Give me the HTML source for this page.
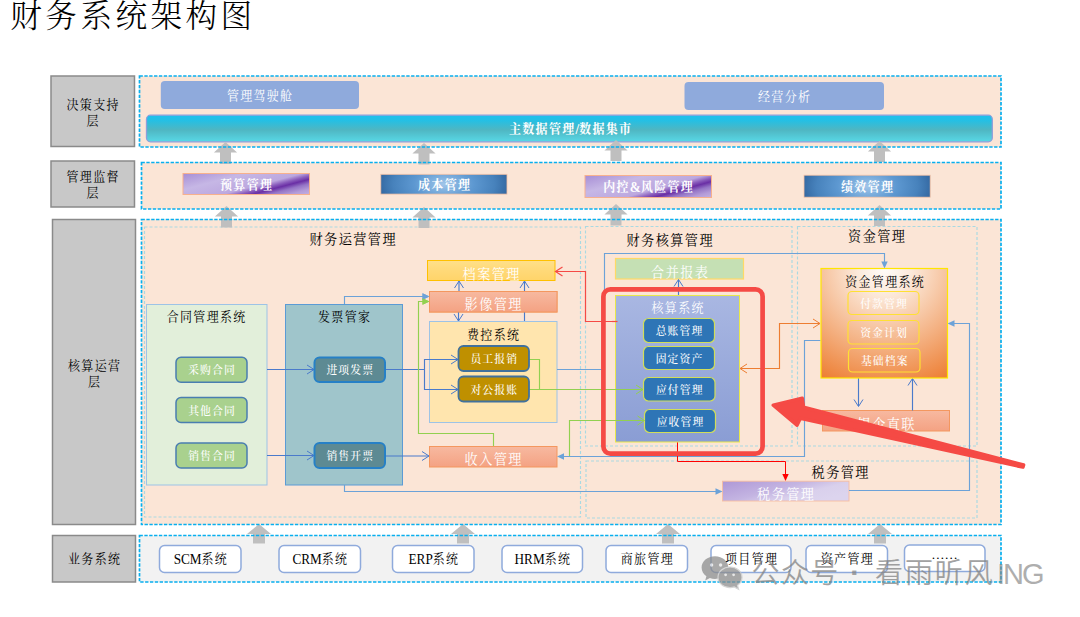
<!DOCTYPE html>
<html lang="zh-CN"><head><meta charset="utf-8"><title>财务系统架构图</title>
<style>
html,body{margin:0;padding:0;background:#fff;}
body{width:1080px;height:617px;overflow:hidden;font-family:"Liberation Serif", "Noto Serif CJK SC", serif;}
svg{display:block;}
</style></head><body>
<svg width="1080" height="617" viewBox="0 0 1080 617">
<defs>
<linearGradient id="gCyan" x1="0" y1="0" x2="0" y2="1"><stop offset="0" stop-color="#1FC0EC"/><stop offset="0.18" stop-color="#22C0E6"/><stop offset="0.55" stop-color="#4FB6C2"/><stop offset="1" stop-color="#58D8E6"/></linearGradient>
<linearGradient id="gPurple" x1="0" y1="0" x2="1.167" y2="0.732"><stop offset="0" stop-color="#A78ED5"/><stop offset="0.3" stop-color="#C6B7E5"/><stop offset="0.58" stop-color="#BCA8DF"/><stop offset="0.66" stop-color="#8A5CBC"/><stop offset="0.72" stop-color="#6A2FA5"/><stop offset="0.80" stop-color="#9474C6"/><stop offset="0.9" stop-color="#B49CD8"/><stop offset="1" stop-color="#C2B0E2"/></linearGradient>
<linearGradient id="gPurple2" x1="0" y1="0" x2="1" y2="0.6"><stop offset="0" stop-color="#AE97D6"/><stop offset="0.5" stop-color="#C4B5E2"/><stop offset="0.75" stop-color="#D9D0EC"/><stop offset="1" stop-color="#DCD4EE"/></linearGradient>
<radialGradient id="gBlue" cx="0.5" cy="0.5" r="0.56" gradientTransform="translate(0 0.5) scale(1 3.2) translate(0 -0.5)"><stop offset="0" stop-color="#A2C6E9"/><stop offset="0.18" stop-color="#82B2DF"/><stop offset="0.42" stop-color="#5D98D1"/><stop offset="0.72" stop-color="#4782BC"/><stop offset="1" stop-color="#2C5E97"/></radialGradient>
<linearGradient id="gYellow" x1="0" y1="0" x2="0" y2="1"><stop offset="0" stop-color="#FFE08A"/><stop offset="0.5" stop-color="#FFD978"/><stop offset="1" stop-color="#FFD46A"/></linearGradient>
<linearGradient id="gSalmon" x1="0" y1="0" x2="0" y2="1"><stop offset="0" stop-color="#F7B9A0"/><stop offset="1" stop-color="#F4A283"/></linearGradient>
<linearGradient id="gCore" x1="0" y1="0" x2="0" y2="1"><stop offset="0" stop-color="#A9B7E2"/><stop offset="1" stop-color="#8A9DD4"/></linearGradient>
<radialGradient id="gFund" cx="884.5" cy="268" r="127" gradientUnits="userSpaceOnUse"><stop offset="0" stop-color="#FFFDFB"/><stop offset="0.2" stop-color="#FCEBDD"/><stop offset="0.5" stop-color="#F6C29D"/><stop offset="1" stop-color="#ED7D31"/></radialGradient>
</defs>
<text x="10.3" y="16.3" font-size="31.6" fill="#000" font-weight="300" font-family='"Liberation Serif", "Noto Serif CJK SC", serif' text-anchor="start" dominant-baseline="central" letter-spacing="3.45">财务系统架构图</text>
<rect x="51" y="76" width="83.5" height="70.5" fill="#C8C8C8" stroke="#8A8A8A" stroke-width="1.5" rx="0" />
<rect x="51" y="161" width="83.5" height="46" fill="#C8C8C8" stroke="#8A8A8A" stroke-width="1.5" rx="0" />
<rect x="52.5" y="219.5" width="83.0" height="305.0" fill="#C8C8C8" stroke="#8A8A8A" stroke-width="1.5" rx="0" />
<rect x="52.5" y="535.5" width="83.0" height="46.5" fill="#C8C8C8" stroke="#8A8A8A" stroke-width="1.5" rx="0" />
<text transform="translate(93.15 104.5) scale(0.93 1)" font-size="12.9" fill="#000" font-weight="400" font-family='"Liberation Serif", "Noto Serif CJK SC", serif' text-anchor="middle" dominant-baseline="central" letter-spacing="1.4" >决策支持</text>
<text transform="translate(93.15 121) scale(0.93 1)" font-size="12.9" fill="#000" font-weight="400" font-family='"Liberation Serif", "Noto Serif CJK SC", serif' text-anchor="middle" dominant-baseline="central" letter-spacing="1.4" >层</text>
<text transform="translate(93.15 176.5) scale(0.93 1)" font-size="12.9" fill="#000" font-weight="400" font-family='"Liberation Serif", "Noto Serif CJK SC", serif' text-anchor="middle" dominant-baseline="central" letter-spacing="1.4" >管理监督</text>
<text transform="translate(93.15 193) scale(0.93 1)" font-size="12.9" fill="#000" font-weight="400" font-family='"Liberation Serif", "Noto Serif CJK SC", serif' text-anchor="middle" dominant-baseline="central" letter-spacing="1.4" >层</text>
<text transform="translate(94.65 365.5) scale(0.93 1)" font-size="12.9" fill="#000" font-weight="400" font-family='"Liberation Serif", "Noto Serif CJK SC", serif' text-anchor="middle" dominant-baseline="central" letter-spacing="1.4" >核算运营</text>
<text transform="translate(94.65 382) scale(0.93 1)" font-size="12.9" fill="#000" font-weight="400" font-family='"Liberation Serif", "Noto Serif CJK SC", serif' text-anchor="middle" dominant-baseline="central" letter-spacing="1.4" >层</text>
<text transform="translate(94.65 559) scale(0.93 1)" font-size="12.9" fill="#000" font-weight="400" font-family='"Liberation Serif", "Noto Serif CJK SC", serif' text-anchor="middle" dominant-baseline="central" letter-spacing="1.4" >业务系统</text>
<rect x="139.5" y="76" width="861.5" height="71" fill="#FBE5D6" stroke="none" stroke-width="1" rx="0" />
<rect x="141.5" y="162.5" width="859.5" height="46.5" fill="#FBE5D6" stroke="none" stroke-width="1" rx="0" />
<rect x="141.5" y="219.5" width="859.5" height="305.0" fill="#FBE5D6" stroke="none" stroke-width="1" rx="0" />
<rect x="139.5" y="535.5" width="861.5" height="46.5" fill="#F2F2F2" stroke="none" stroke-width="1" rx="0" />
<rect x="160.8" y="81" width="198.2" height="28" fill="#8FAADC" stroke="none" stroke-width="0" rx="4" />
<text transform="translate(260.15 95.5) scale(0.93 1)" font-size="12.9" fill="#fff" font-weight="400" font-family='"Liberation Serif", "Noto Serif CJK SC", serif' text-anchor="middle" dominant-baseline="central" letter-spacing="1.4" >管理驾驶舱</text>
<rect x="684.5" y="82" width="199.5" height="28" fill="#8FAADC" stroke="none" stroke-width="0" rx="4" />
<text transform="translate(784.65 96.5) scale(0.93 1)" font-size="12.9" fill="#fff" font-weight="400" font-family='"Liberation Serif", "Noto Serif CJK SC", serif' text-anchor="middle" dominant-baseline="central" letter-spacing="1.4" >经营分析</text>
<rect x="146.5" y="115.2" width="845.8" height="26.6" fill="url(#gCyan)" stroke="#8E9FDB" stroke-width="1.3" rx="4" />
<text transform="translate(570.65 129) scale(0.93 1)" font-size="12.9" fill="#fff" font-weight="700" font-family='"Liberation Serif", "Noto Serif CJK SC", serif' text-anchor="middle" dominant-baseline="central" letter-spacing="1.4" >主数据管理<tspan letter-spacing="0" font-size="14.23">/</tspan>数据集市</text>
<rect x="183" y="173.5" width="126.5" height="21.0" fill="url(#gPurple)" stroke="#F7B08D" stroke-width="1" rx="0" />
<text transform="translate(246.65 184.5) scale(0.93 1)" font-size="12.9" fill="#fff" font-weight="700" font-family='"Liberation Serif", "Noto Serif CJK SC", serif' text-anchor="middle" dominant-baseline="central" letter-spacing="1.4" >预算管理</text>
<rect x="380.8" y="174.3" width="126.2" height="19.8" fill="url(#gBlue)" stroke="#F7C3A6" stroke-width="0.8" rx="0" />
<text transform="translate(444.65 184.5) scale(0.93 1)" font-size="12.9" fill="#fff" font-weight="700" font-family='"Liberation Serif", "Noto Serif CJK SC", serif' text-anchor="middle" dominant-baseline="central" letter-spacing="1.4" >成本管理</text>
<rect x="585" y="175.5" width="126.5" height="22.0" fill="url(#gPurple)" stroke="#F7B08D" stroke-width="1" rx="0" />
<text transform="translate(648.65 187) scale(0.93 1)" font-size="12.9" fill="#fff" font-weight="700" font-family='"Liberation Serif", "Noto Serif CJK SC", serif' text-anchor="middle" dominant-baseline="central" letter-spacing="1.4" >内控<tspan letter-spacing="0" font-size="14.23">&amp;</tspan>风险管理</text>
<rect x="804" y="175.2" width="126.2" height="22.0" fill="url(#gBlue)" stroke="#F7C3A6" stroke-width="0.8" rx="0" />
<text transform="translate(867.65 187) scale(0.93 1)" font-size="12.9" fill="#fff" font-weight="700" font-family='"Liberation Serif", "Noto Serif CJK SC", serif' text-anchor="middle" dominant-baseline="central" letter-spacing="1.4" >绩效管理</text>
<rect x="144.5" y="227" width="436.0" height="290" fill="none" stroke="#A9D9E2" stroke-width="1.15" rx="0" stroke-dasharray="3 2"/>
<rect x="585.5" y="226.5" width="206.5" height="219.5" fill="none" stroke="#A9D9E2" stroke-width="1.15" rx="0" stroke-dasharray="3 2"/>
<rect x="797.5" y="226.5" width="179.5" height="219.5" fill="none" stroke="#A9D9E2" stroke-width="1.15" rx="0" stroke-dasharray="3 2"/>
<rect x="586" y="461" width="391" height="57" fill="none" stroke="#A9D9E2" stroke-width="1.15" rx="0" stroke-dasharray="3 2"/>
<text transform="translate(353.22 239) scale(0.93 1)" font-size="14.16" fill="#000" font-weight="400" font-family='"Liberation Serif", "Noto Serif CJK SC", serif' text-anchor="middle" dominant-baseline="central" letter-spacing="1.54" >财务运营管理</text>
<text transform="translate(670.22 240.5) scale(0.93 1)" font-size="14.16" fill="#000" font-weight="400" font-family='"Liberation Serif", "Noto Serif CJK SC", serif' text-anchor="middle" dominant-baseline="central" letter-spacing="1.54" >财务核算管理</text>
<text transform="translate(877.22 236.5) scale(0.93 1)" font-size="14.16" fill="#000" font-weight="400" font-family='"Liberation Serif", "Noto Serif CJK SC", serif' text-anchor="middle" dominant-baseline="central" letter-spacing="1.54" >资金管理</text>
<text transform="translate(840.72 472) scale(0.93 1)" font-size="14.16" fill="#000" font-weight="400" font-family='"Liberation Serif", "Noto Serif CJK SC", serif' text-anchor="middle" dominant-baseline="central" letter-spacing="1.54" >税务管理</text>
<rect x="146.5" y="304.5" width="120.5" height="180.5" fill="#E2EFDA" stroke="#9DC3E6" stroke-width="1" rx="0" />
<text transform="translate(206.65 316.6) scale(0.93 1)" font-size="12.9" fill="#000" font-weight="400" font-family='"Liberation Serif", "Noto Serif CJK SC", serif' text-anchor="middle" dominant-baseline="central" letter-spacing="1.4" >合同管理系统</text>
<rect x="285.5" y="304.5" width="117.0" height="180.5" fill="#9FC5CB" stroke="#5B9BD5" stroke-width="1" rx="0" />
<text transform="translate(344.65 316.5) scale(0.93 1)" font-size="12.9" fill="#000" font-weight="400" font-family='"Liberation Serif", "Noto Serif CJK SC", serif' text-anchor="middle" dominant-baseline="central" letter-spacing="1.4" >发票管家</text>
<rect x="427.5" y="260.5" width="127.5" height="20.0" fill="url(#gYellow)" stroke="#FFC000" stroke-width="1" rx="0" />
<rect x="429.5" y="291.5" width="127.5" height="20.5" fill="url(#gSalmon)" stroke="#F4975F" stroke-width="1" rx="0" />
<rect x="429.5" y="321.5" width="127.5" height="101.0" fill="#FFE5AE" stroke="#9DC3E6" stroke-width="1" rx="0" />
<text transform="translate(493.65 334.5) scale(0.93 1)" font-size="12.9" fill="#000" font-weight="400" font-family='"Liberation Serif", "Noto Serif CJK SC", serif' text-anchor="middle" dominant-baseline="central" letter-spacing="1.4" >费控系统</text>
<rect x="429.5" y="446.5" width="127.5" height="20.5" fill="url(#gSalmon)" stroke="#F4975F" stroke-width="1" rx="0" />
<rect x="615.5" y="258.5" width="128.0" height="20.5" fill="#C5E0B4" stroke="#FFD966" stroke-width="1.2" rx="0" />
<rect x="822.5" y="410.5" width="127.0" height="20.5" fill="url(#gSalmon)" stroke="#F4975F" stroke-width="1" rx="0" />
<rect x="722.5" y="481.2" width="126.5" height="19.8" fill="url(#gPurple2)" stroke="#F5BDA2" stroke-width="0.9" rx="0" />
<text transform="translate(491.72 274) scale(0.93 1)" font-size="14.16" fill="#fff" font-weight="400" font-family='"Liberation Serif", "Noto Serif CJK SC", serif' text-anchor="middle" dominant-baseline="central" letter-spacing="1.54" >档案管理</text>
<text transform="translate(493.72 304.5) scale(0.93 1)" font-size="14.16" fill="#fff" font-weight="400" font-family='"Liberation Serif", "Noto Serif CJK SC", serif' text-anchor="middle" dominant-baseline="central" letter-spacing="1.54" >影像管理</text>
<text transform="translate(493.72 459.5) scale(0.93 1)" font-size="14.16" fill="#fff" font-weight="400" font-family='"Liberation Serif", "Noto Serif CJK SC", serif' text-anchor="middle" dominant-baseline="central" letter-spacing="1.54" >收入管理</text>
<text transform="translate(680.22 272) scale(0.93 1)" font-size="14.16" fill="#fff" font-weight="400" font-family='"Liberation Serif", "Noto Serif CJK SC", serif' text-anchor="middle" dominant-baseline="central" letter-spacing="1.54" >合并报表</text>
<text transform="translate(886.72 424.5) scale(0.93 1)" font-size="14.16" fill="#fff" font-weight="400" font-family='"Liberation Serif", "Noto Serif CJK SC", serif' text-anchor="middle" dominant-baseline="central" letter-spacing="1.54" >银企直联</text>
<text transform="translate(786.22 494) scale(0.93 1)" font-size="14.16" fill="#fff" font-weight="400" font-family='"Liberation Serif", "Noto Serif CJK SC", serif' text-anchor="middle" dominant-baseline="central" letter-spacing="1.54" >税务管理</text>
<path d="M344.5,304 V296.5 H423" stroke="#6CA2D8" stroke-width="1.15" fill="none" />
<path d="M422.5,293.3 L429.5,296.5 L422.5,299.7Z" stroke="none" stroke-width="0" fill="#6CA2D8" />
<path d="M557,369.5 H604.5 V253.5 H884.5 V262" stroke="#6CA2D8" stroke-width="1.15" fill="none" />
<path d="M881.3,261.5 L884.5,268.5 L887.7,261.5Z" stroke="none" stroke-width="0" fill="#6CA2D8" />
<path d="M820.5,340.5 H804.5 V456.5 H563" stroke="#6CA2D8" stroke-width="1.15" fill="none" />
<path d="M564,453.3 L557,456.5 L564,459.7Z" stroke="none" stroke-width="0" fill="#6CA2D8" />
<path d="M344.5,485 V491.5 H716" stroke="#6CA2D8" stroke-width="1.15" fill="none" />
<path d="M715.5,488.3 L722.5,491.5 L715.5,494.7Z" stroke="none" stroke-width="0" fill="#6CA2D8" />
<path d="M849,490.5 H969.5 V323.5 H954" stroke="#6CA2D8" stroke-width="1.15" fill="none" />
<path d="M954.5,320.3 L947.5,323.5 L954.5,326.7Z" stroke="none" stroke-width="0" fill="#6CA2D8" />
<path d="M858.5,378 V406" stroke="#4A7ACB" stroke-width="1.15" fill="none" />
<path d="M854.0,399.5 L858.5,406.5 L863.0,399.5" stroke="#4A7ACB" stroke-width="1" fill="none" />
<path d="M912.5,410.5 V379" stroke="#4A7ACB" stroke-width="1.15" fill="none" />
<path d="M908.0,385.5 L912.5,378.5 L917.0,385.5" stroke="#4A7ACB" stroke-width="1" fill="none" />
<path d="M459,291 V281" stroke="#4A7ACB" stroke-width="1.15" fill="none" />
<path d="M454.5,288 L459,281 L463.5,288" stroke="#4A7ACB" stroke-width="1" fill="none" />
<path d="M524.5,321 V281" stroke="#4A7ACB" stroke-width="1.15" fill="none" />
<path d="M520.0,288 L524.5,281 L529.0,288" stroke="#4A7ACB" stroke-width="1" fill="none" />
<path d="M458.5,312 V321" stroke="#4A7ACB" stroke-width="1.15" fill="none" />
<path d="M454.0,314 L458.5,321 L463.0,314" stroke="#4A7ACB" stroke-width="1" fill="none" />
<path d="M267,369.5 H314" stroke="#4A7ACB" stroke-width="1.15" fill="none" />
<path d="M307,365.0 L314,369.5 L307,374.0" stroke="#4A7ACB" stroke-width="1" fill="none" />
<path d="M267,455.5 H314" stroke="#4A7ACB" stroke-width="1.15" fill="none" />
<path d="M307,451.0 L314,455.5 L307,460.0" stroke="#4A7ACB" stroke-width="1" fill="none" />
<path d="M385,369.5 H424.5 M458,359.5 H424.5 V389.5 H458" stroke="#4A7ACB" stroke-width="1.15" fill="none" />
<path d="M451,355.0 L458,359.5 L451,364.0" stroke="#4A7ACB" stroke-width="1" fill="none" />
<path d="M451,385.0 L458,389.5 L451,394.0" stroke="#4A7ACB" stroke-width="1" fill="none" />
<path d="M385,456 H429" stroke="#4A7ACB" stroke-width="1.15" fill="none" />
<path d="M422,451.5 L429,456 L422,460.5" stroke="#4A7ACB" stroke-width="1" fill="none" />
<path d="M678.5,295 V280" stroke="#4A7ACB" stroke-width="1.15" fill="none" />
<path d="M674.0,286.5 L678.5,279.5 L683.0,286.5" stroke="#4A7ACB" stroke-width="1" fill="none" />
<path d="M493.5,446 V433.5 H418.5 V301.5 H423" stroke="#92D050" stroke-width="1.15" fill="none" />
<path d="M422.5,298.3 L429.5,301.5 L422.5,304.7Z" stroke="none" stroke-width="0" fill="#92D050" />
<path d="M529,359.5 H539.5 V389.5 M529,389.5 H643" stroke="#92D050" stroke-width="1.15" fill="none" />
<path d="M636,385.0 L643,389.5 L636,394.0" stroke="#92D050" stroke-width="1" fill="none" />
<path d="M569.5,456 V420.5 H644" stroke="#92D050" stroke-width="1.15" fill="none" />
<path d="M637.5,416.0 L644.5,420.5 L637.5,425.0" stroke="#92D050" stroke-width="1" fill="none" />
<path d="M617.5,321.5 H585.5 V271.5 H556" stroke="#F54A45" stroke-width="1.2" fill="none" />
<path d="M562.5,267.0 L555.5,271.5 L562.5,276.0" stroke="#F54A45" stroke-width="1.2" fill="none" />
<path d="M677.5,442 V461.5 H785.5 V474" stroke="#FF0000" stroke-width="1" fill="none" />
<path d="M782.3,474 L785.5,481 L788.7,474Z" stroke="none" stroke-width="0" fill="#FF0000" />
<path d="M740,368.5 H779.5 V323.5 H820" stroke="#ED7D31" stroke-width="1.15" fill="none" />
<path d="M747,364.0 L740,368.5 L747,373.0" stroke="#ED7D31" stroke-width="1" fill="none" />
<path d="M813,319.0 L820,323.5 L813,328.0" stroke="#ED7D31" stroke-width="1" fill="none" />
<rect x="429.5" y="291.5" width="127.5" height="20.5" fill="url(#gSalmon)" stroke="#F4975F" stroke-width="1" rx="0" />
<text transform="translate(493.72 304.5) scale(0.93 1)" font-size="14.16" fill="#fff" font-weight="400" font-family='"Liberation Serif", "Noto Serif CJK SC", serif' text-anchor="middle" dominant-baseline="central" letter-spacing="1.54" >影像管理</text>
<path d="M422.5,293.3 L429.5,296.5 L422.5,299.7Z" stroke="none" stroke-width="0" fill="#6CA2D8" />
<path d="M422.5,298.3 L429.5,301.5 L422.5,304.7Z" stroke="none" stroke-width="0" fill="#92D050" />
<rect x="176" y="357.2" width="71" height="25.1" fill="#A9D18E" stroke="#4A7EB0" stroke-width="1.5" rx="5" />
<text transform="translate(212.09 370.25) scale(0.93 1)" font-size="11.64" fill="#fff" font-weight="500" font-family='"Liberation Serif", "Noto Serif CJK SC", serif' text-anchor="middle" dominant-baseline="central" letter-spacing="1.26" >采购合同</text>
<rect x="176" y="397.5" width="71" height="25.0" fill="#A9D18E" stroke="#4A7EB0" stroke-width="1.5" rx="5" />
<text transform="translate(212.09 410.5) scale(0.93 1)" font-size="11.64" fill="#fff" font-weight="500" font-family='"Liberation Serif", "Noto Serif CJK SC", serif' text-anchor="middle" dominant-baseline="central" letter-spacing="1.26" >其他合同</text>
<rect x="176" y="443" width="71" height="25" fill="#A9D18E" stroke="#4A7EB0" stroke-width="1.5" rx="5" />
<text transform="translate(212.09 456.0) scale(0.93 1)" font-size="11.64" fill="#fff" font-weight="500" font-family='"Liberation Serif", "Noto Serif CJK SC", serif' text-anchor="middle" dominant-baseline="central" letter-spacing="1.26" >销售合同</text>
<rect x="314.5" y="357.5" width="70.5" height="24.5" fill="#5D8A93" stroke="#2680C6" stroke-width="2" rx="5" />
<text transform="translate(350.34 370.25) scale(0.93 1)" font-size="11.64" fill="#fff" font-weight="500" font-family='"Liberation Serif", "Noto Serif CJK SC", serif' text-anchor="middle" dominant-baseline="central" letter-spacing="1.26" >进项发票</text>
<rect x="314.5" y="443" width="70.5" height="25" fill="#5D8A93" stroke="#2680C6" stroke-width="2" rx="5" />
<text transform="translate(350.34 456.0) scale(0.93 1)" font-size="11.64" fill="#fff" font-weight="500" font-family='"Liberation Serif", "Noto Serif CJK SC", serif' text-anchor="middle" dominant-baseline="central" letter-spacing="1.26" >销售开票</text>
<rect x="458.5" y="346" width="70.5" height="25" fill="#BF9000" stroke="#41719C" stroke-width="1.8" rx="5" />
<text transform="translate(494.34 359.0) scale(0.93 1)" font-size="11.64" fill="#fff" font-weight="500" font-family='"Liberation Serif", "Noto Serif CJK SC", serif' text-anchor="middle" dominant-baseline="central" letter-spacing="1.26" >员工报销</text>
<rect x="458.5" y="376.5" width="70.5" height="25.0" fill="#BF9000" stroke="#41719C" stroke-width="1.8" rx="5" />
<text transform="translate(494.34 389.5) scale(0.93 1)" font-size="11.64" fill="#fff" font-weight="500" font-family='"Liberation Serif", "Noto Serif CJK SC", serif' text-anchor="middle" dominant-baseline="central" letter-spacing="1.26" >对公报账</text>
<rect x="615.5" y="295.5" width="124.0" height="146.5" fill="url(#gCore)" stroke="#E8E84A" stroke-width="1" rx="0" />
<text transform="translate(678.15 308) scale(0.93 1)" font-size="12.9" fill="#fff" font-weight="400" font-family='"Liberation Serif", "Noto Serif CJK SC", serif' text-anchor="middle" dominant-baseline="central" letter-spacing="1.4" >核算系统</text>
<rect x="643.5" y="318.5" width="71.0" height="24.0" fill="#2E75B6" stroke="#D2DE5A" stroke-width="1.2" rx="5" />
<text transform="translate(679.59 331.0) scale(0.93 1)" font-size="11.64" fill="#fff" font-weight="500" font-family='"Liberation Serif", "Noto Serif CJK SC", serif' text-anchor="middle" dominant-baseline="central" letter-spacing="1.26" >总账管理</text>
<rect x="643.5" y="346.5" width="71.0" height="23.0" fill="#2E75B6" stroke="#D2DE5A" stroke-width="1.2" rx="5" />
<text transform="translate(679.59 358.5) scale(0.93 1)" font-size="11.64" fill="#fff" font-weight="500" font-family='"Liberation Serif", "Noto Serif CJK SC", serif' text-anchor="middle" dominant-baseline="central" letter-spacing="1.26" >固定资产</text>
<rect x="643.5" y="377.5" width="71.5" height="23.5" fill="#2E75B6" stroke="#D2DE5A" stroke-width="1.2" rx="5" />
<text transform="translate(679.84 389.75) scale(0.93 1)" font-size="11.64" fill="#fff" font-weight="500" font-family='"Liberation Serif", "Noto Serif CJK SC", serif' text-anchor="middle" dominant-baseline="central" letter-spacing="1.26" >应付管理</text>
<rect x="644.5" y="409.5" width="71.0" height="23.0" fill="#2E75B6" stroke="#D2DE5A" stroke-width="1.2" rx="5" />
<text transform="translate(680.59 421.5) scale(0.93 1)" font-size="11.64" fill="#fff" font-weight="500" font-family='"Liberation Serif", "Noto Serif CJK SC", serif' text-anchor="middle" dominant-baseline="central" letter-spacing="1.26" >应收管理</text>
<path d="M636,385.0 L643,389.5 L636,394.0" stroke="#92D050" stroke-width="1" fill="none" />
<path d="M637.5,416.0 L644.5,420.5 L637.5,425.0" stroke="#92D050" stroke-width="1" fill="none" />
<path d="M615,389.5 H643 M615,420.5 H644" stroke="#92D050" stroke-width="1.15" fill="none" />
<path d="M617.5,321.5 H612" stroke="#F54A45" stroke-width="1.2" fill="none" />
<rect x="821" y="268.5" width="126.5" height="109.5" fill="url(#gFund)" stroke="#FFE600" stroke-width="1.2" rx="0" />
<text transform="translate(885.15 282) scale(0.93 1)" font-size="12.9" fill="#000" font-weight="400" font-family='"Liberation Serif", "Noto Serif CJK SC", serif' text-anchor="middle" dominant-baseline="central" letter-spacing="1.4" >资金管理系统</text>
<rect x="848" y="291.5" width="71" height="23.0" fill="none" stroke="#FFE033" stroke-width="1.2" rx="4" />
<text transform="translate(884.09 303.5) scale(0.93 1)" font-size="11.64" fill="#fff" font-weight="500" font-family='"Liberation Serif", "Noto Serif CJK SC", serif' text-anchor="middle" dominant-baseline="central" letter-spacing="1.26" >付款管理</text>
<rect x="848" y="320.5" width="71" height="23.5" fill="none" stroke="#FFE033" stroke-width="1.2" rx="4" />
<text transform="translate(884.09 332.75) scale(0.93 1)" font-size="11.64" fill="#fff" font-weight="500" font-family='"Liberation Serif", "Noto Serif CJK SC", serif' text-anchor="middle" dominant-baseline="central" letter-spacing="1.26" >资金计划</text>
<rect x="848.5" y="348.5" width="71.5" height="23.5" fill="none" stroke="#FFE033" stroke-width="1.2" rx="4" />
<text transform="translate(884.84 360.75) scale(0.93 1)" font-size="11.64" fill="#fff" font-weight="500" font-family='"Liberation Serif", "Noto Serif CJK SC", serif' text-anchor="middle" dominant-baseline="central" letter-spacing="1.26" >基础档案</text>
<rect x="603.4" y="289.4" width="159.2" height="164.2" fill="none" stroke="#F54A45" stroke-width="4.7" rx="7" />
<path d="M225.5,142 L237.1,152.5 L231.0,152.5 L231.0,164 L220.0,164 L220.0,152.5 L213.9,152.5Z" fill="#BFBFBF"/>
<path d="M424,143 L435.6,153.5 L429.5,153.5 L429.5,164.5 L418.5,164.5 L418.5,153.5 L412.4,153.5Z" fill="#BFBFBF"/>
<path d="M616,140 L627.6,150.5 L621.5,150.5 L621.5,161 L610.5,161 L610.5,150.5 L604.4,150.5Z" fill="#BFBFBF"/>
<path d="M879.5,141 L891.1,151.5 L885.0,151.5 L885.0,162 L874.0,162 L874.0,151.5 L867.9,151.5Z" fill="#BFBFBF"/>
<path d="M226.5,206 L238.1,216.5 L232.0,216.5 L232.0,227.5 L221.0,227.5 L221.0,216.5 L214.9,216.5Z" fill="#BFBFBF"/>
<path d="M424,207 L435.6,217.5 L429.5,217.5 L429.5,228 L418.5,228 L418.5,217.5 L412.4,217.5Z" fill="#BFBFBF"/>
<path d="M616,204 L627.6,214.5 L621.5,214.5 L621.5,225.5 L610.5,225.5 L610.5,214.5 L604.4,214.5Z" fill="#BFBFBF"/>
<path d="M879.5,205 L891.1,215.5 L885.0,215.5 L885.0,226 L874.0,226 L874.0,215.5 L867.9,215.5Z" fill="#BFBFBF"/>
<path d="M259,524 L271,534 L265,534 L265,543.5 L253,543.5 L253,534 L247,534Z" fill="#BFBFBF"/>
<path d="M463,524 L475,534 L469,534 L469,543.5 L457,543.5 L457,534 L451,534Z" fill="#BFBFBF"/>
<path d="M668,524 L680,534 L674,534 L674,543.5 L662,543.5 L662,534 L656,534Z" fill="#BFBFBF"/>
<path d="M880,524 L892,534 L886,534 L886,543.5 L874,543.5 L874,534 L868,534Z" fill="#BFBFBF"/>
<rect x="139.5" y="76" width="861.5" height="71" fill="none" stroke="#08AFEE" stroke-width="1.7" rx="0" stroke-dasharray="3.35 1.5"/>
<rect x="141.5" y="162.5" width="859.5" height="46.5" fill="none" stroke="#08AFEE" stroke-width="1.7" rx="0" stroke-dasharray="3.35 1.5"/>
<rect x="141.5" y="219.5" width="859.5" height="305.0" fill="none" stroke="#08AFEE" stroke-width="1.7" rx="0" stroke-dasharray="3.35 1.5"/>
<rect x="139.5" y="535.5" width="861.5" height="46.5" fill="none" stroke="#08AFEE" stroke-width="1.7" rx="0" stroke-dasharray="3.35 1.5"/>
<rect x="159.5" y="545.5" width="81.5" height="27.0" fill="#fff" stroke="#8FAADC" stroke-width="1.5" rx="5" />
<text transform="translate(200.9 559.0) scale(0.93 1)" font-size="12.9" fill="#000" font-weight="400" font-family='"Liberation Serif", "Noto Serif CJK SC", serif' text-anchor="middle" dominant-baseline="central" letter-spacing="1.4" ><tspan letter-spacing="0" font-size="14.23">SCM</tspan>系统</text>
<rect x="279" y="545.5" width="81.5" height="27.0" fill="#fff" stroke="#8FAADC" stroke-width="1.5" rx="5" />
<text transform="translate(320.4 559.0) scale(0.93 1)" font-size="12.9" fill="#000" font-weight="400" font-family='"Liberation Serif", "Noto Serif CJK SC", serif' text-anchor="middle" dominant-baseline="central" letter-spacing="1.4" ><tspan letter-spacing="0" font-size="14.23">CRM</tspan>系统</text>
<rect x="392.5" y="545.5" width="81.5" height="27.0" fill="#fff" stroke="#8FAADC" stroke-width="1.5" rx="5" />
<text transform="translate(433.9 559.0) scale(0.93 1)" font-size="12.9" fill="#000" font-weight="400" font-family='"Liberation Serif", "Noto Serif CJK SC", serif' text-anchor="middle" dominant-baseline="central" letter-spacing="1.4" ><tspan letter-spacing="0" font-size="14.23">ERP</tspan>系统</text>
<rect x="502" y="545.5" width="80.5" height="27.0" fill="#fff" stroke="#8FAADC" stroke-width="1.5" rx="5" />
<text transform="translate(542.9 559.0) scale(0.93 1)" font-size="12.9" fill="#000" font-weight="400" font-family='"Liberation Serif", "Noto Serif CJK SC", serif' text-anchor="middle" dominant-baseline="central" letter-spacing="1.4" ><tspan letter-spacing="0" font-size="14.23">HRM</tspan>系统</text>
<rect x="606" y="545.5" width="81.5" height="27.0" fill="#fff" stroke="#8FAADC" stroke-width="1.5" rx="5" />
<text transform="translate(647.4 559.0) scale(0.93 1)" font-size="12.9" fill="#000" font-weight="400" font-family='"Liberation Serif", "Noto Serif CJK SC", serif' text-anchor="middle" dominant-baseline="central" letter-spacing="1.4" >商旅管理</text>
<rect x="711" y="545.5" width="80" height="27.0" fill="#fff" stroke="#8FAADC" stroke-width="1.5" rx="5" />
<text transform="translate(751.65 559.0) scale(0.93 1)" font-size="12.9" fill="#000" font-weight="400" font-family='"Liberation Serif", "Noto Serif CJK SC", serif' text-anchor="middle" dominant-baseline="central" letter-spacing="1.4" >项目管理</text>
<rect x="806" y="545.5" width="81.5" height="27.0" fill="#fff" stroke="#8FAADC" stroke-width="1.5" rx="5" />
<text transform="translate(847.4 559.0) scale(0.93 1)" font-size="12.9" fill="#000" font-weight="400" font-family='"Liberation Serif", "Noto Serif CJK SC", serif' text-anchor="middle" dominant-baseline="central" letter-spacing="1.4" >资产管理</text>
<rect x="904.5" y="545" width="80.5" height="26.5" fill="#fff" stroke="#8FAADC" stroke-width="1.5" rx="5" />
<text x="944.5" y="554" font-size="13.3" fill="#000" font-weight="400" font-family='"Liberation Serif", "Noto Serif CJK SC", serif' text-anchor="middle" dominant-baseline="central" >……</text>
<path d="M773.3,405.2 L802.3,398.3 L803.6,407.2 L1023.6,465 L1022.9,467.1 L800.4,418.3 L797,425.2 Z" fill="#F54A45" stroke="#F54A45" stroke-width="3.5" stroke-linejoin="round"/>
<g opacity="0.74">
<path d="M715,556.2 C707.4,556.2 701.6,561.2 701.6,567.6 C701.6,571.1 703.4,574.2 706.4,576.3 L705.2,580.4 L709.9,578 C711.5,578.6 713.2,578.9 715,578.9 C722.5,578.9 728.4,573.9 728.4,567.6 C728.4,561.2 722.5,556.2 715,556.2Z" fill="#8C8C8C"/>
<path d="M730,567 C723.3,567 718,571.5 718,577.3 C718,583 723.3,587.6 730,587.6 C731.5,587.6 733,587.4 734.3,586.9 L738.6,589.2 L737.5,585.4 C740.3,583.5 742,580.6 742,577.3 C742,571.5 736.7,567 730,567Z" fill="#8C8C8C" stroke="#C9C9C9" stroke-width="1.2"/>
<g fill="#E4E4E4"><circle cx="711.6" cy="565" r="1.7"/><circle cx="720.6" cy="565" r="1.7"/><circle cx="725.6" cy="574.8" r="1.4"/><circle cx="733.6" cy="574.8" r="1.4"/></g>
</g>
<text x="751.5" y="573.6" font-size="28" fill="#858585" font-weight="350" font-family='"Liberation Sans", "Noto Sans CJK SC", sans-serif' text-anchor="start" dominant-baseline="central" opacity="0.76" letter-spacing="1.4">公众号</text>
<text x="855" y="573.2" font-size="29" fill="#858585" font-weight="700" font-family='"Liberation Sans", "Noto Sans CJK SC", sans-serif' text-anchor="middle" dominant-baseline="central" opacity="0.72">·</text>
<text x="875" y="573.6" font-size="28" fill="#858585" font-weight="350" font-family='"Liberation Sans", "Noto Sans CJK SC", sans-serif' text-anchor="start" dominant-baseline="central" opacity="0.76" letter-spacing="1.9">看雨听风</text>
<text x="997" y="573.6" font-size="29" fill="#858585" font-weight="400" font-family='"Liberation Sans", "Noto Sans CJK SC", sans-serif' text-anchor="start" dominant-baseline="central" opacity="0.66" textLength="47.5" lengthAdjust="spacing">ING</text>
</svg>
</body></html>
